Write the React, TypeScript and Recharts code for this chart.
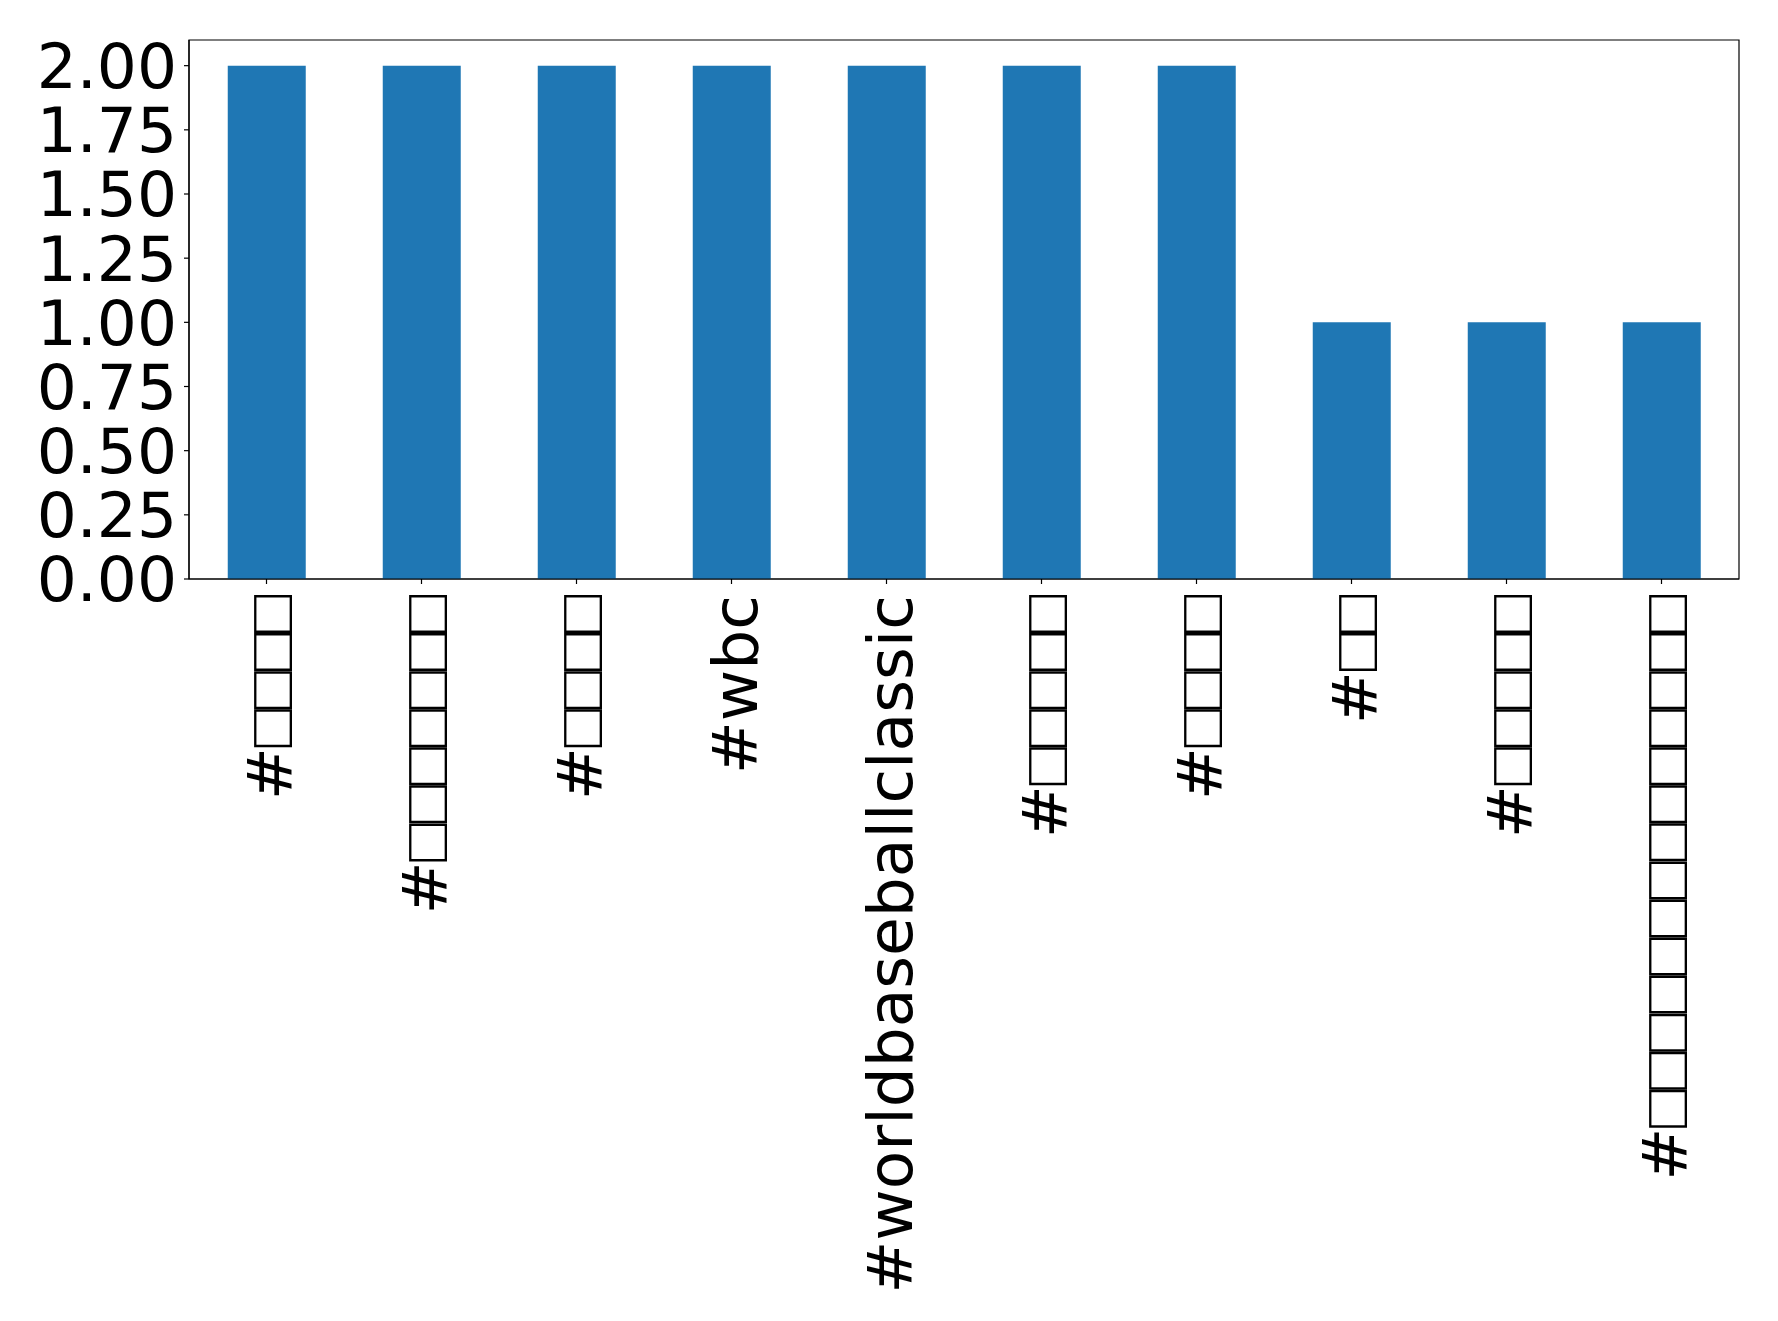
import { BarChart, Bar, XAxis, YAxis, ReferenceArea } from 'recharts'

// hashtags whose CJK glyphs were missing in the source render (drawn as boxes)
const TAGS = [
  '#□□□□',
  '#□□□□□□□',
  '#□□□□',
  '#wbc',
  '#worldbaseballclassic',
  '#□□□□□',
  '#□□□□',
  '#□□',
  '#□□□□□',
  '#□□□□□□□□□□□□□□',
]
const COUNTS = [2, 2, 2, 2, 2, 2, 2, 1, 1, 1]
const Y_TICKS = [0, 0.25, 0.5, 0.75, 1, 1.25, 1.5, 1.75, 2]
const Y_MAX = 2.1

const data = TAGS.map((tag, i) => ({ tag, count: COUNTS[i] }))

const FONT = "'DejaVu Sans', sans-serif"
const FS = 63

function TagTick({ x, y, payload }: any) {
  const parts: { s: string; box: boolean }[] = []
  for (const ch of String(payload.value)) {
    const box = ch === '□'
    const last = parts[parts.length - 1]
    if (last && last.box === box) last.s += ch
    else parts.push({ s: ch, box })
  }
  return (
    <text
      transform={`translate(${x + 3},${y + 9}) rotate(-90)`}
      textAnchor="end"
      dominantBaseline="central"
      fontFamily={FONT}
      fontSize={FS}
      fill="#000"
    >
      {parts.map((p, i) => (
        <tspan key={i} fontFamily={p.box ? "'Liberation Sans'" : FONT} fontWeight={p.box ? 'bold' : 'normal'}>
          {p.s}
        </tspan>
      ))}
    </text>
  )
}

export default function App() {
  return (
    <div style={{ position: 'absolute', left: 0, top: 0, width: 1778, height: 1321, background: '#fff' }}>
      <BarChart
        width={1778}
        height={1321}
        data={data}
        margin={{ top: 40, right: 39, bottom: 0, left: 0 }}
        barCategoryGap="25%"
      >
        <XAxis
          dataKey="tag"
          height={742}
          interval={0}
          tick={<TagTick />}
          tickSize={5}
          stroke="#000"
          axisLine={{ stroke: '#000', strokeWidth: 1.2 }}
          tickLine={{ stroke: '#000', strokeWidth: 1.2 }}
        />
        <YAxis
          width={189}
          domain={[0, Y_MAX]}
          ticks={Y_TICKS}
          interval={0}
          tickFormatter={(v: number) => v.toFixed(2)}
          tickSize={5}
          tickMargin={7}
          stroke="#000"
          tick={{ fontSize: FS, fill: '#000', fontFamily: FONT }}
          axisLine={{ stroke: '#000', strokeWidth: 1.2 }}
          tickLine={{ stroke: '#000', strokeWidth: 1.2 }}
          allowDataOverflow
        />
        <Bar dataKey="count" fill="#1f77b4" isAnimationActive={false} />
        <ReferenceArea y1={0} y2={Y_MAX} fill="none" stroke="#000" strokeWidth={1.2} ifOverflow="visible" />
      </BarChart>
    </div>
  )
}
